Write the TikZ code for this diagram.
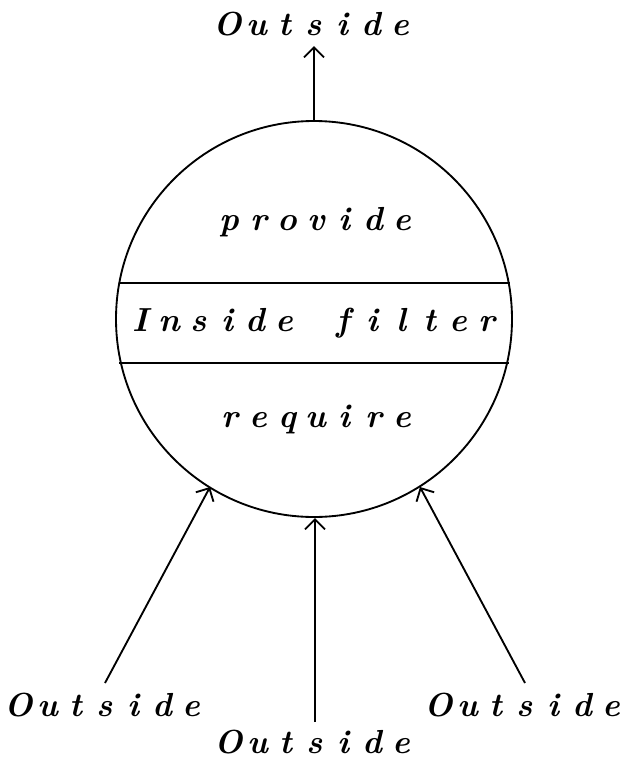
\documentclass[tikz,border=0pt]{standalone}
\usepackage{fontspec}
\setmainfont{Latin Modern Roman}
\usetikzlibrary{arrows.meta}
\ExplSyntaxOn
\NewDocumentCommand\spc{m}{\tl_map_inline:nn{#1}{\makebox[21.6pt]{##1}}}
\ExplSyntaxOff
\newcommand\gap{\makebox[22.5pt]{}}
\tikzset{
  lbl/.style={font=\fontsize{25pt}{28pt}\selectfont\bfseries\itshape, inner sep=0pt, anchor=center},
  conn/.style={line width=1.4pt, -{Straight Barb[length=7.5pt,width=15pt,line width=1.4pt]}},
  thin/.style={line width=1.4pt}
}
\begin{document}
\begin{tikzpicture}[x=0.75pt,y=-0.75pt]
\useasboundingbox (0,0) rectangle (625,758);
% circle
\node[draw, circle, line width=1.4pt, minimum size=297pt, inner sep=0pt] (c) at (314,319) {};
% bands
\coordinate (l1) at (118.5,283);
\coordinate (r1) at (509.5,283);
\coordinate (l2) at (119,363);
\coordinate (r2) at (509,363);
\draw[thin] (l1) -- (r1);
\draw[thin] (l2) -- (r2);
\node[lbl] (prov) at (316,222) {\spc{provide}};
\node[lbl] (ins) at (314,323) {\spc{Inside}\gap\spc{filter}};
\node[lbl] (req) at (316,419) {\spc{require}};
% outside labels
\node[lbl] (otop) at (314,24) {\spc{Outside}};
\node[lbl] (ol) at (105,705) {\spc{Outside}};
\node[lbl] (om) at (315,742) {\spc{Outside}};
\node[lbl] (or) at (525,705) {\spc{Outside}};
% connector endpoints
\coordinate (ctop) at (314,121);
\coordinate (atop) at (314,46);
\coordinate (sl) at (105,683);
\coordinate (el) at (210,487);
\coordinate (sm) at (315,722);
\coordinate (em) at (315,518);
\coordinate (sr) at (525,683);
\coordinate (er) at (420,487);
\draw[conn] (ctop) -- (atop);
\draw[conn] (sl) -- (el);
\draw[conn] (sm) -- (em);
\draw[conn] (sr) -- (er);
\end{tikzpicture}
\end{document}
